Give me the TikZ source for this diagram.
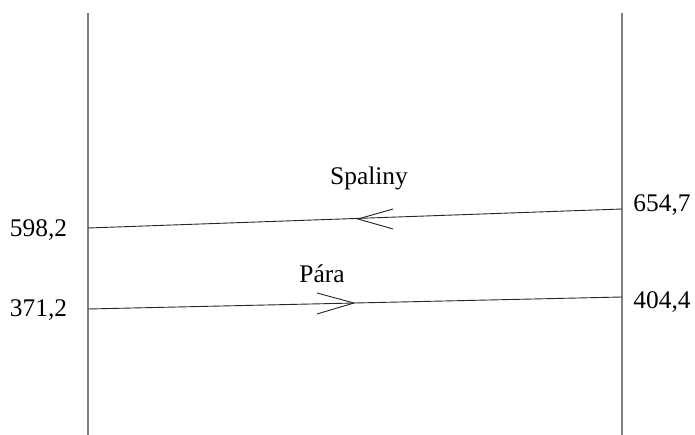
\documentclass[tikz,border=0pt]{standalone}
\usepackage{fontspec}
\setmainfont{Liberation Serif}
\begin{document}
\begin{tikzpicture}[x=1bp,y=-1bp,
  wall/.style={draw=black!50, line width=1.6bp},
  flow/.style={draw=black!85, line width=0.9bp},
  chev/.style={draw=black!85, line width=0.9bp},
  lbl/.style={inner sep=0pt, anchor=base, font=\fontsize{25.5}{30}\selectfont}]
\useasboundingbox (0,0) rectangle (695,435);
% walls
\coordinate (lt) at (88,13);
\coordinate (lb) at (88,435);
\coordinate (rt) at (622,13);
\coordinate (rb) at (622,435);
\draw[wall] (lt) -- (lb);
\draw[wall] (rt) -- (rb);
% flue gas line
\coordinate (sL) at (88,228);
\coordinate (sR) at (622,209);
\draw[flow] (sL) -- (sR);
\coordinate (sTip) at (358,219);
\draw[chev] (393,209) -- (sTip) -- (393,229);
% steam line
\coordinate (pL) at (88,309);
\coordinate (pR) at (622,297);
\draw[flow] (pL) -- (pR);
\coordinate (pTip) at (354,303);
\draw[chev] (317,293) -- (pTip) -- (317,314);
% labels
\node[lbl] (spal) at (369,185) {Spaliny};
\node[lbl] (para) at (322,283) {Pára};
\node[lbl] (t1) at (38.5,237) {598,2};
\node[lbl] (t2) at (38.5,317) {371,2};
\node[lbl] (t3) at (662,212) {654,7};
\node[lbl] (t4) at (662,309) {404,4};
\end{tikzpicture}
\end{document}
